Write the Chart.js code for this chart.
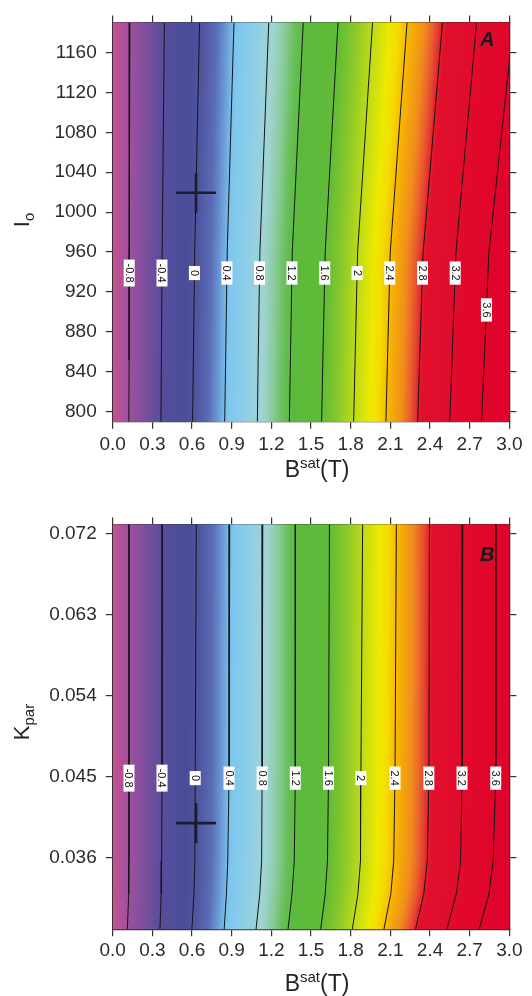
<!DOCTYPE html>
<html>
<head>
<meta charset="utf-8">
<script src="https://cdn.jsdelivr.net/npm/chart.js@4.4.0/dist/chart.umd.min.js"></script>
<style>
html, body { margin: 0; padding: 0; background: #fff; }
canvas { display: block; }
</style>
</head>
<body>
<canvas id="chartA" width="532" height="500"></canvas>
<canvas id="chartB" width="532" height="496"></canvas>
<script>
var FAMILY = "'Liberation Sans', Arial, Helvetica, sans-serif";
Chart.defaults.font.family = FAMILY;
Chart.defaults.color = '#2b2b2b';

// contour levels (same in both panels)
var levels = [-0.8, -0.4, 0, 0.4, 0.8, 1.2, 1.6, 2, 2.4, 2.8, 3.2, 3.6];
var levelNames = ['-0.8', '-0.4', '0', '0.4', '0.8', '1.2', '1.6', '2', '2.4', '2.8', '3.2', '3.6'];
var edgeValues = [-1.0, 4.0];   // field value at left / right border
var edgeBsat = [0, 3.1];
var bsatTicks = [0, 0.3, 0.6, 0.9, 1.2, 1.5, 1.8, 2.1, 2.4, 2.7, 3.0];

// panel A : Bsat of each contour at these Io levels (top to bottom)
var ioLevels = [1190, 960, 852, 790];
var contoursA = [
    [0.130, 0.125, 0.124, 0.122],
    [0.391, 0.374, 0.368, 0.365],
    [0.657, 0.620, 0.610, 0.604],
    [0.917, 0.866, 0.854, 0.847],
    [1.180, 1.113, 1.100, 1.094],
    [1.441, 1.358, 1.344, 1.336],
    [1.704, 1.607, 1.589, 1.580],
    [1.965, 1.852, 1.833, 1.822],
    [2.226, 2.099, 2.078, 2.066],
    [2.494, 2.348, 2.321, 2.306],
    [2.752, 2.596, 2.566, 2.549],
    [3.031, 2.845, 2.810, 2.789]
];
var labelIoA = [939, 939, 939, 939, 939, 939, 939, 939, 939, 939, 939, 902];
var crossA = [0.63, 1019.5];
var ioTicks = [800, 840, 880, 920, 960, 1000, 1040, 1080, 1120, 1160];

// panel B : Bsat of each contour at these Kpar levels (top to bottom)
var kparLevels = [0.073, 0.045, 0.0356, 0.0319, 0.028];
var contoursB = [
    [0.123, 0.123, 0.123, 0.121, 0.111],
    [0.376, 0.373, 0.370, 0.367, 0.357],
    [0.632, 0.624, 0.621, 0.614, 0.599],
    [0.885, 0.880, 0.870, 0.860, 0.843],
    [1.135, 1.130, 1.126, 1.112, 1.084],
    [1.381, 1.381, 1.373, 1.356, 1.326],
    [1.639, 1.632, 1.624, 1.607, 1.573],
    [1.890, 1.877, 1.874, 1.854, 1.812],
    [2.145, 2.135, 2.125, 2.103, 2.051],
    [2.396, 2.391, 2.379, 2.352, 2.290],
    [2.647, 2.642, 2.631, 2.598, 2.527],
    [2.897, 2.897, 2.877, 2.845, 2.771]
];
var labelKparB = [0.0448, 0.0448, 0.0448, 0.0448, 0.0448, 0.0448, 0.0448, 0.0448, 0.0448, 0.0448, 0.0448, 0.0448];
var crossB = [0.63, 0.0398];
var kparTicks = [0.036, 0.045, 0.054, 0.063, 0.072];

// colour scale of the field
var cmapStops = [-1.0, -0.85, -0.6, -0.4, -0.1, 0.05, 0.2, 0.3, 0.42, 0.6, 0.85, 1.0, 1.12, 1.25, 1.6, 1.8, 2.0, 2.2, 2.3, 2.42, 2.6, 2.72, 2.82, 4.0];
var cmapColors = ['#c8528f', '#a8509c', '#7c4f9e', '#564d9b', '#4a4d99', '#5156a1', '#5a6db6', '#6894d2',
    '#7cc6ef', '#8acde9', '#a0d4d4', '#88ca98', '#66be54', '#5bb93c', '#60bb37', '#88c82b',
    '#bcda18', '#ece900', '#f5dc00', '#f7b600', '#f08c1c', '#e85432', '#e0102c', '#e0002b'];

var cmapRgb = cmapColors.map(function (h) {
    return [parseInt(h.slice(1, 3), 16), parseInt(h.slice(3, 5), 16), parseInt(h.slice(5, 7), 16)];
});

function cmap(v) {
    var n = cmapStops.length;
    if (v <= cmapStops[0]) v = cmapStops[0];
    if (v >= cmapStops[n - 1]) v = cmapStops[n - 1];
    for (var i = 1; i < n; i++) {
        if (v <= cmapStops[i]) {
            var t = (v - cmapStops[i - 1]) / (cmapStops[i] - cmapStops[i - 1]);
            var a = cmapRgb[i - 1], b = cmapRgb[i];
            return 'rgb(' + Math.round(a[0] + (b[0] - a[0]) * t) + ',' +
                Math.round(a[1] + (b[1] - a[1]) * t) + ',' +
                Math.round(a[2] + (b[2] - a[2]) * t) + ')';
        }
    }
    return cmapColors[n - 1];
}

var STOPS = 8;

// gradient for the band between the previous dataset and this one
function bandFill(context) {
    var chart = context.chart;
    var ds = context.dataset;
    if (!chart.chartArea || !ds || !ds.band) return 'rgba(0,0,0,0)';
    var sx = chart.scales.x, sy = chart.scales.y;
    var L = chart.data.datasets[context.datasetIndex - 1].data, R = ds.data;
    var xl0 = sx.getPixelForValue(L[0].x), xl1 = sx.getPixelForValue(L[1].x);
    var xr0 = sx.getPixelForValue(R[0].x), xr1 = sx.getPixelForValue(R[1].x);
    var y0 = sy.getPixelForValue(L[0].y), y1 = sy.getPixelForValue(L[1].y);
    var dx = ((xl1 - xl0) + (xr1 - xr0)) / 2, dy = y1 - y0;
    var len = Math.sqrt(dx * dx + dy * dy) || 1;
    var nx = dy / len, ny = -dx / len;
    if (nx < 0) { nx = -nx; ny = -ny; }
    var px = (xl0 + xl1) / 2, py = (y0 + y1) / 2;
    var w = ((xr0 + xr1) / 2 - px) * nx;
    var g = chart.ctx.createLinearGradient(px, py, px + nx * w, py + ny * w);
    for (var j = 0; j <= STOPS; j++) {
        var t = j / STOPS;
        g.addColorStop(t, cmap(ds.band.v0 + (ds.band.v1 - ds.band.v0) * t));
    }
    return g;
}

function panelLines(yLevels, contours) {
    var lines = [{ v: edgeValues[0], xs: yLevels.map(function () { return edgeBsat[0]; }), edge: true }];
    contours.forEach(function (xs, i) { lines.push({ v: levels[i], xs: xs, edge: false }); });
    lines.push({ v: edgeValues[1], xs: yLevels.map(function () { return edgeBsat[1]; }), edge: true });
    return lines;
}

function panelDatasets(yLevels, contours, cross) {
    var lines = panelLines(yLevels, contours);
    var sets = [{
        data: [{ x: cross[0], y: cross[1] }],
        showLine: false,
        pointStyle: 'cross',
        pointRadius: 20,
        pointBorderWidth: 2.6,
        pointBorderColor: '#1c1c30',
        order: -1
    }];
    for (var k = 0; k < yLevels.length - 1; k++) {
        for (var i = 0; i < lines.length; i++) {
            var ln = lines[i];
            sets.push({
                data: [{ x: ln.xs[k], y: yLevels[k] }, { x: ln.xs[k + 1], y: yLevels[k + 1] }],
                borderColor: ln.edge ? 'rgba(0,0,0,0)' : '#161616',
                borderWidth: ln.edge ? 0 : 1,
                pointRadius: 0,
                tension: 0,
                fill: i === 0 ? false : '-1',
                backgroundColor: bandFill,
                band: i === 0 ? null : { v0: lines[i - 1].v, v1: ln.v }
            });
        }
    }
    return sets;
}

function lerpLine(yLevels, xs, y) {
    for (var k = 0; k < yLevels.length - 1; k++) {
        var a = yLevels[k], b = yLevels[k + 1];
        if ((y <= a && y >= b) || (y >= a && y <= b)) {
            return xs[k] + (xs[k + 1] - xs[k]) * (y - a) / (b - a);
        }
    }
    return xs[xs.length - 1];
}

function drawRich(ctx, parts, x, y, angle) {
    ctx.save();
    ctx.translate(x, y);
    ctx.rotate(angle);
    var total = 0;
    parts.forEach(function (p) {
        ctx.font = p.size + 'px ' + FAMILY;
        p.w = ctx.measureText(p.text).width;
        total += p.w;
    });
    var cx = -total / 2;
    ctx.textAlign = 'left';
    ctx.textBaseline = 'alphabetic';
    ctx.fillStyle = '#222';
    parts.forEach(function (p) {
        ctx.font = p.size + 'px ' + FAMILY;
        ctx.fillText(p.text, cx, p.dy);
        cx += p.w;
    });
    ctx.restore();
}

function makePanel(id, cfg) {
    var lines = panelLines(cfg.yLevels, cfg.contours);
    var grid = { drawOnChartArea: false, drawTicks: true, tickLength: 7, color: '#333', tickColor: '#333', lineWidth: 1.2 };
    var border = { display: true, color: '#2a2a2a', width: 1.3 };
    var tickFont = { size: 19 };
    var setTicksX = function (s) { s.ticks = bsatTicks.map(function (v) { return { value: v }; }); };
    var setTicksY = function (s) { s.ticks = cfg.yTicks.map(function (v) { return { value: v }; }); };

    // colour rows under the band fills so that the joins between slabs do not show
    var rowGradient = function (chart, k) {
        var a = chart.chartArea, sx = chart.scales.x;
        var g = chart.ctx.createLinearGradient(a.left, 0, a.right, 0);
        for (var i = 1; i < lines.length; i++) {
            var x0 = sx.getPixelForValue(lines[i - 1].xs[k]), x1 = sx.getPixelForValue(lines[i].xs[k]);
            for (var j = 0; j <= STOPS; j++) {
                var t = j / STOPS;
                var f = (x0 + (x1 - x0) * t - a.left) / (a.right - a.left);
                g.addColorStop(Math.max(0, Math.min(1, f)), cmap(lines[i - 1].v + (lines[i].v - lines[i - 1].v) * t));
            }
        }
        return g;
    };

    var backdrop = {
        id: 'backdrop' + id,
        beforeDatasetsDraw: function (chart) {
            var a = chart.chartArea, sy = chart.scales.y, ctx = chart.ctx;
            ctx.save();
            ctx.beginPath();
            ctx.rect(a.left, a.top, a.right - a.left, a.bottom - a.top);
            ctx.clip();
            ctx.fillStyle = rowGradient(chart, Math.floor(cfg.yLevels.length / 2));
            ctx.fillRect(a.left, a.top, a.right - a.left, a.bottom - a.top);
            cfg.yLevels.forEach(function (yv, k) {
                var py = sy.getPixelForValue(yv);
                ctx.fillStyle = rowGradient(chart, k);
                ctx.fillRect(a.left, py - 3, a.right - a.left, 6);
            });
            ctx.restore();
        }
    };

    var annotate = {
        id: 'annotate' + id,
        afterDatasetsDraw: function (chart) {
            var ctx = chart.ctx, sx = chart.scales.x, sy = chart.scales.y, a = chart.chartArea;
            ctx.save();
            ctx.beginPath();
            ctx.rect(a.left, a.top, a.right - a.left, a.bottom - a.top);
            ctx.clip();
            cfg.contours.forEach(function (xs, i) {
                var yv = cfg.labelY[i];
                var px = sx.getPixelForValue(lerpLine(cfg.yLevels, xs, yv));
                var py = sy.getPixelForValue(yv);
                ctx.save();
                ctx.translate(px, py);
                ctx.rotate(Math.PI / 2);
                ctx.font = '11px ' + FAMILY;
                var w = ctx.measureText(levelNames[i]).width;
                ctx.fillStyle = '#fff';
                ctx.fillRect(-w / 2 - 4, -5.5, w + 8, 11);
                ctx.fillStyle = '#111';
                ctx.textAlign = 'center';
                ctx.textBaseline = 'middle';
                ctx.fillText(levelNames[i], 0, 0.5);
                ctx.restore();
            });
            ctx.restore();
            ctx.save();
            ctx.font = 'italic bold 20px ' + FAMILY;
            ctx.fillStyle = '#1a1a1a';
            ctx.textAlign = 'left';
            ctx.textBaseline = 'alphabetic';
            ctx.fillText(cfg.letter, cfg.letterPos[0], cfg.letterPos[1]);
            ctx.restore();
        },
        afterDraw: function (chart) {
            var ctx = chart.ctx;
            drawRich(ctx, cfg.yTitle, cfg.yTitlePos[0], cfg.yTitlePos[1], -Math.PI / 2);
            drawRich(ctx, [{ text: 'B', size: 23, dy: 0 }, { text: 'sat', size: 15, dy: -9 }, { text: '(T)', size: 23, dy: 0 }],
                cfg.xTitlePos[0], cfg.xTitlePos[1], 0);
        }
    };

    return new Chart(document.getElementById(id), {
        type: 'line',
        data: { datasets: panelDatasets(cfg.yLevels, cfg.contours, cfg.cross) },
        options: {
            responsive: false,
            animation: false,
            events: [],
            indexAxis: 'y',
            layout: { padding: 0 },
            plugins: { legend: { display: false }, tooltip: { enabled: false } },
            scales: {
                x: {
                    type: 'linear', position: 'bottom', min: 0, max: 3,
                    afterBuildTicks: setTicksX,
                    ticks: { font: tickFont, padding: cfg.xTickPad, maxRotation: 0, autoSkip: false,
                        callback: function (v) { return v.toFixed(1); } },
                    grid: grid, border: border,
                    afterFit: function (s) { s.height = cfg.box.bottom; }
                },
                x2: {
                    type: 'linear', position: 'top', min: 0, max: 3,
                    afterBuildTicks: setTicksX,
                    ticks: { display: false },
                    grid: grid, border: border,
                    afterFit: function (s) { s.height = cfg.box.top; }
                },
                y: {
                    type: 'linear', position: 'left', min: cfg.yMin, max: cfg.yMax,
                    afterBuildTicks: setTicksY,
                    ticks: { font: tickFont, padding: 9, autoSkip: false, callback: cfg.yFormat },
                    grid: grid, border: border,
                    afterFit: function (s) { s.width = cfg.box.left; }
                },
                y2: {
                    type: 'linear', position: 'right', min: cfg.yMin, max: cfg.yMax,
                    afterBuildTicks: setTicksY,
                    ticks: { display: false },
                    grid: grid, border: border,
                    afterFit: function (s) { s.width = cfg.box.right; }
                }
            }
        },
        plugins: [backdrop, annotate]
    });
}

makePanel('chartA', {
    yLevels: ioLevels, contours: contoursA, labelY: labelIoA, cross: crossA,
    yMin: 790, yMax: 1190, yTicks: ioTicks,
    yFormat: function (v) { return String(v); },
    box: { left: 112.7, right: 13.7, top: 16, bottom: 78.3 },
    xTickPad: 5,
    letter: 'A', letterPos: [480, 46],
    yTitle: [{ text: 'I', size: 22, dy: 0 }, { text: 'o', size: 15, dy: 5 }],
    yTitlePos: [29, 220],
    xTitlePos: [317, 477]
});

makePanel('chartB', {
    yLevels: kparLevels, contours: contoursB, labelY: labelKparB, cross: crossB,
    yMin: 0.028, yMax: 0.073, yTicks: kparTicks,
    yFormat: function (v) { return v.toFixed(3); },
    box: { left: 112.7, right: 13.7, top: 24.4, bottom: 66.7 },
    xTickPad: 3,
    letter: 'B', letterPos: [480, 61],
    yTitle: [{ text: 'K', size: 22, dy: 0 }, { text: 'par', size: 15, dy: 5 }],
    yTitlePos: [28.5, 222],
    xTitlePos: [317, 491]
});
</script>
</body>
</html>
